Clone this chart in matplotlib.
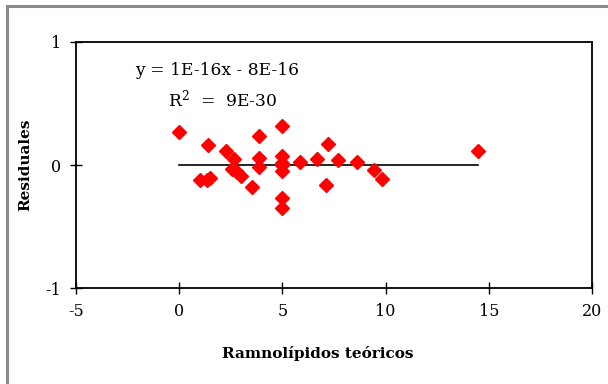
import matplotlib
matplotlib.use("Agg")
import matplotlib.pyplot as plt
from matplotlib.patches import Rectangle

# Residuals of the fitted model against theoretical rhamnolipid values
x_teoricos = [0.0, 1.4, 1.0, 1.33, 1.5, 2.27, 2.65, 2.54, 2.82, 2.99, 3.51,
              3.87, 3.87, 3.87, 5.0, 5.0, 5.0, 5.0, 5.0, 5.0, 5.0, 5.0,
              5.85, 6.66, 7.23, 7.1, 7.68, 8.63, 9.42, 9.81, 14.5]
residuales = [0.268, 0.162, -0.122, -0.12, -0.108, 0.114, 0.049, -0.035, -0.054,
              -0.087, -0.181, 0.235, 0.054, -0.013, 0.32, 0.075, 0.02, 0.0,
              -0.045, -0.265, -0.346, 0.01, 0.027, 0.049, 0.17, -0.16, 0.038,
              0.027, -0.038, -0.111, 0.111]

x_ticks = [-5, 0, 5, 10, 15, 20]
y_ticks = [-1, 0, 1]
ecuacion = "y = 1E-16x - 8E-16"
r2_texto = r"R$^2$  =  9E-30"

plt.rcParams["font.family"] = ["DejaVu Serif"]
plt.rcParams["mathtext.default"] = "regular"
plt.rcParams["axes.unicode_minus"] = False

fig = plt.figure(figsize=(6.08, 3.84), dpi=100)
ax = fig.add_axes([0.125, 0.2492, 0.8487, 0.6422])

# zero line across the range of the data
ax.plot([min(x_teoricos), max(x_teoricos)], [0, 0], color="black", lw=1.2, zorder=2)
ax.plot(x_teoricos, residuales, linestyle="none", marker="D", ms=6.8,
        color="#FF0000", mec="#FF0000", zorder=3)

ax.set_xlim(-5, 20)
ax.set_ylim(-1, 1)
ax.set_xticks(x_ticks)
ax.set_yticks(y_ticks)
ax.tick_params(direction="inout", length=9, width=1.0, labelsize=11.5, pad=6)
for s in ax.spines.values():
    s.set_linewidth(1.3)

ax.text(-2.14, 0.77, ecuacion, fontsize=12.3, va="center", ha="left")
ax.text(-0.54, 0.53, r2_texto, fontsize=12.3, va="center", ha="left")

ax.set_xlabel("Ramnolípidos teóricos", fontsize=11, fontweight="bold")
ax.set_ylabel("Residuales", fontsize=11, fontweight="bold")
ax.xaxis.set_label_coords(0.469, -0.235)
ax.yaxis.set_label_coords(-0.085, 0.5)

# grey chart-area frame
fig.patches.append(Rectangle((6.5 / 608, -0.1), 1.2, 1.1 - 6.5 / 384,
                             transform=fig.transFigure, fill=False,
                             ec="#8a8a8a", lw=2.2))

fig.savefig("out.png", dpi=100)
